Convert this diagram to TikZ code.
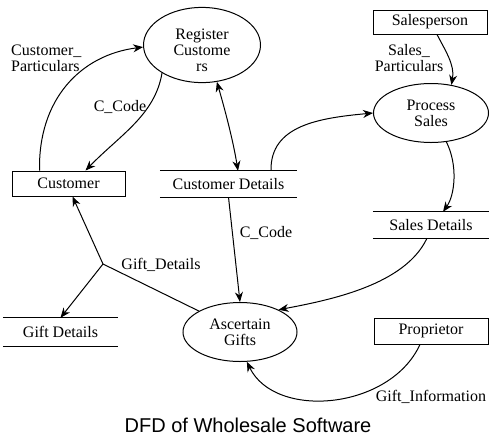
\documentclass[tikz,border=0pt]{standalone}
\usepackage{fontspec}
\setmainfont{Liberation Serif}
\newfontfamily\titlefont{Liberation Sans}
\usetikzlibrary{shapes.geometric,arrows.meta,calc}
\begin{document}
\begin{tikzpicture}[x=1pt,y=-1pt,
  every node/.style={font=\fontsize{16}{16}\selectfont},
  proc/.style={ellipse,draw,line width=1pt,inner sep=0pt,align=center},
  ext/.style={rectangle,draw,line width=0.9pt,inner sep=0pt},
  store/.style={rectangle,inner sep=0pt},
  storeline/.style={line width=0.9pt},
  conn/.style={line width=1pt},
  flow/.style={line width=1pt,-{Stealth[length=10pt,width=8pt]}},
  biflow/.style={line width=1pt,{Stealth[length=10pt,width=8pt]}-{Stealth[length=10pt,width=8pt]}},
  lbl/.style={inner sep=0pt,align=center}]
\fill[white] (0,0) rectangle (498,445);
\useasboundingbox (0,0) rectangle (498,445);

% processes
\node[proc, minimum width=117pt, minimum height=70pt] (rc) at (202,45) {\rule{0pt}{21pt}Register\\Custome\\rs};
\node[proc, minimum width=115pt, minimum height=59pt] (ps) at (431,113) {Process\\Sales};
\node[proc, minimum width=114pt, minimum height=59pt] (ag) at (240,332) {Ascertain\\Gifts};

% external entities
\node[ext, minimum width=113pt, minimum height=25pt] (cust) at (68.5,183.5) {Customer};
\node[ext, minimum width=114pt, minimum height=24pt] (sp) at (430,22) {Salesperson};
\node[ext, minimum width=114pt, minimum height=26pt] (pr) at (431,331) {Proprietor};

% data stores
\node[store, minimum width=137pt, minimum height=26pt] (cd) at (228.5,184) {Customer Details};
\node[store, minimum width=116pt, minimum height=26pt] (sd) at (431,225) {Sales Details};
\node[store, minimum width=115pt, minimum height=28pt] (gd) at (60.5,332) {Gift Details};
\foreach \s in {cd,sd,gd}{
  \draw[storeline] (\s.north west) -- (\s.north east) (\s.south west) -- (\s.south east);
}

% title
\node[font=\titlefont\fontsize{20}{24}\selectfont] (title) at (248,425) {DFD of Wholesale Software};

\coordinate (j) at (103,264);

% flows
\draw[flow] ($(cust.north west)+(28,0)$) .. controls (38,100) and (80,55) .. (rc.182);
\draw[flow] (rc.215) .. controls (155,115) and (120,135) .. ($(cust.north)+(17,0)$);
\draw[biflow] (rc.292) .. controls (225,110) and (233,140) .. ($(cd.north)+(9.5,0)$);
\draw[flow] ($(cd.north)+(42.5,0)$) .. controls (270,125) and (320,118) .. (ps.west);
\draw[flow] ($(sp.south)+(7,0)$) .. controls (445,50) and (455,65) .. (ps.54);
\draw[flow] (ps.298) .. controls (458,165) and (455,195) .. ($(sd.north)+(12,0)$);
\draw[flow] ($(sd.south)+(-4,0)$) .. controls (405,285) and (330,300) .. (ag.30);
\draw[flow] (cd.south) -- (ag.north);
\draw[conn] (ag.153) -- (j);
\draw[flow] (j) -- ($(cust.south)+(4,0)$);
\draw[flow] (j) -- (gd.north);
\draw[flow] ($(pr.south)+(-11,0)$) .. controls (390,410) and (275,420) .. (ag.283);

% labels
\node[lbl, align=left, anchor=west] (l1) at (11,58) {Customer\_\\Particulars};
\node[lbl] (l2) at (120,107) {C\_Code};
\node[lbl] (l3) at (409,58) {Sales\_\\Particulars};
\node[lbl] (l4) at (266,233) {C\_Code};
\node[lbl] (l5) at (161,265) {Gift\_Details};
\node[lbl] (l6) at (431,397) {Gift\_Information};
\end{tikzpicture}
\end{document}
